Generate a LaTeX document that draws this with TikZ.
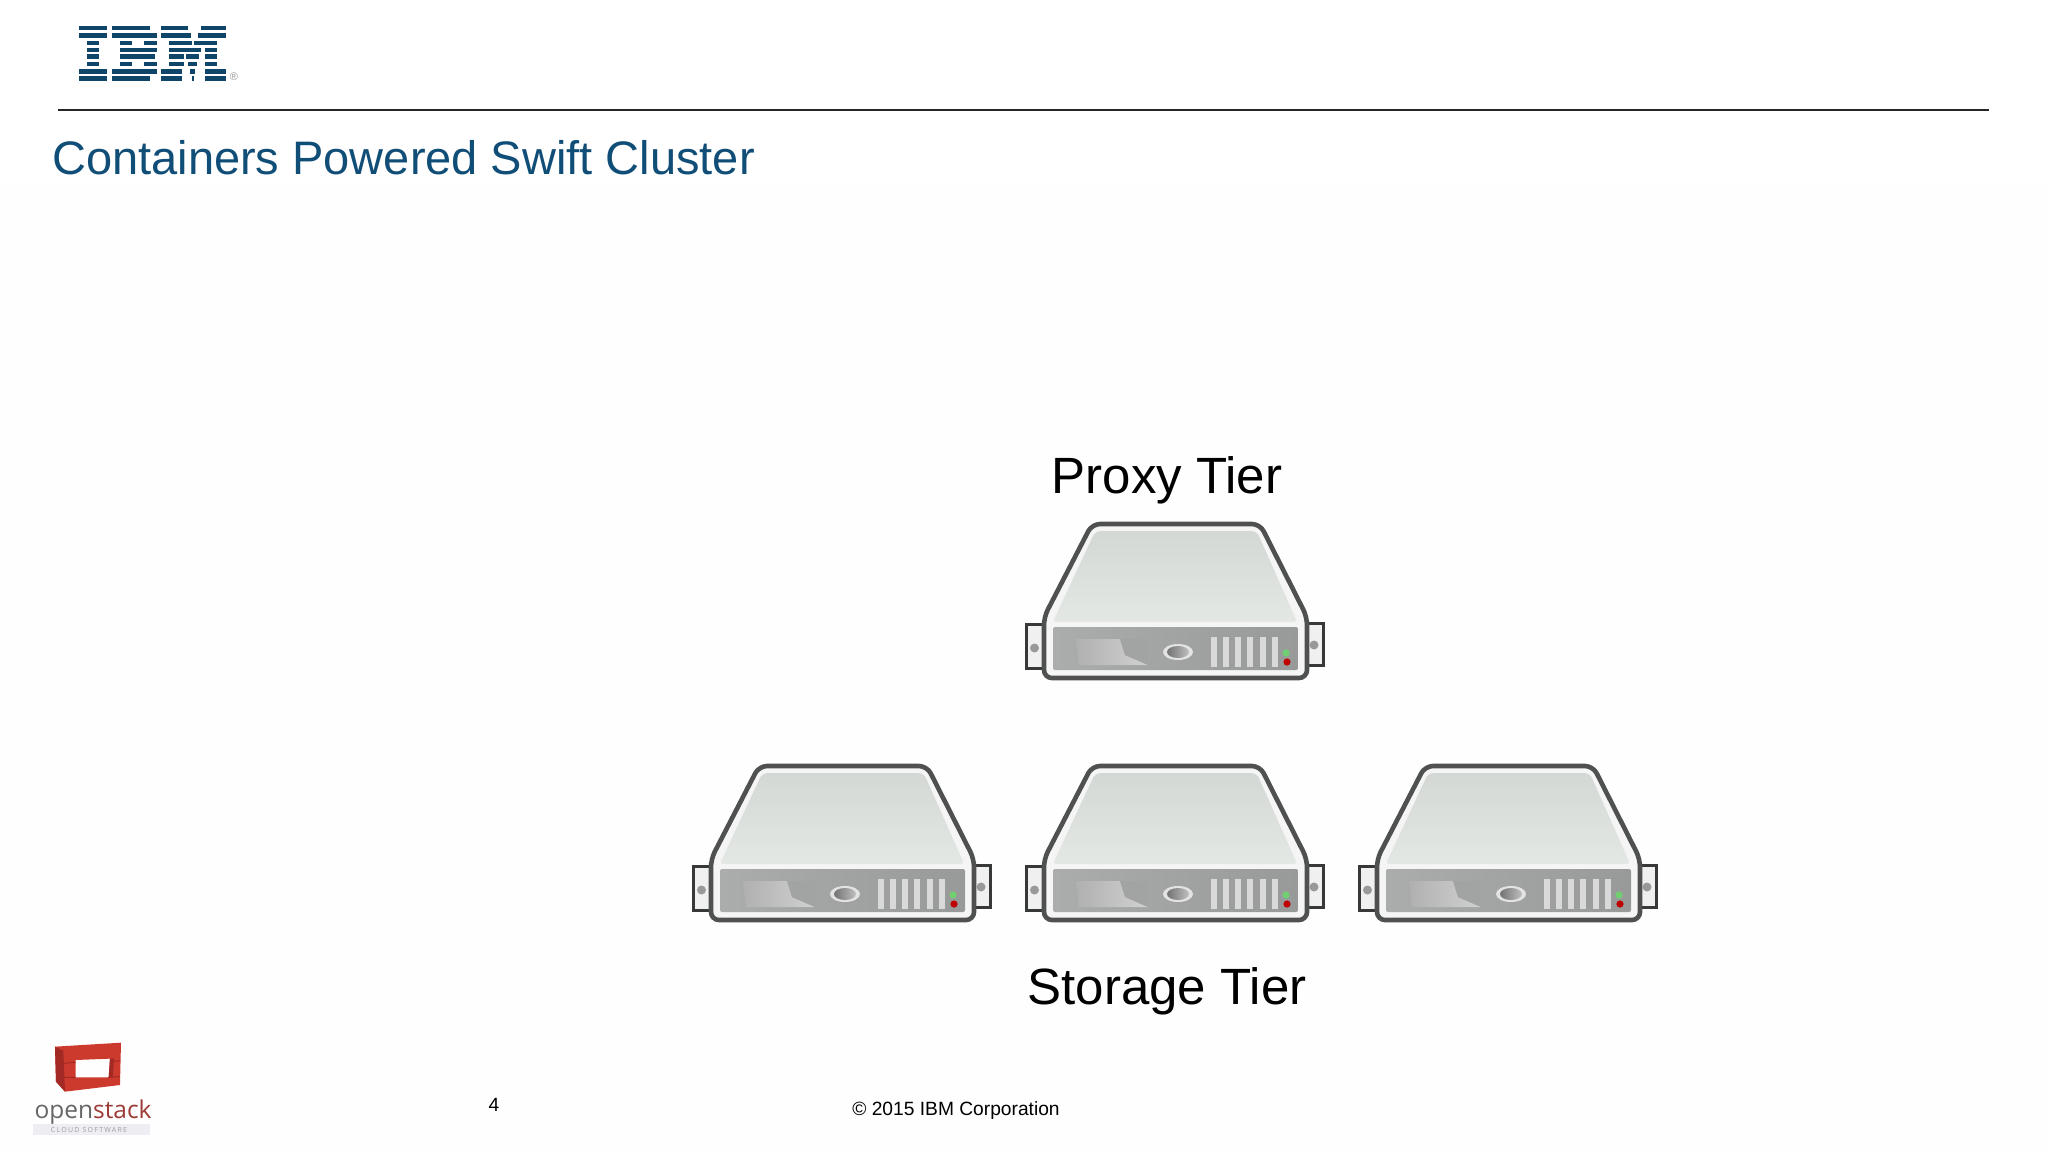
\documentclass[tikz,border=0pt]{standalone}
\usepackage{fontspec}
\setmainfont{Liberation Sans}
\newfontfamily\osfont{Open Sans}
\definecolor{ibmblue}{HTML}{0F4568}
\definecolor{titleblue}{HTML}{104E78}
\definecolor{srvline}{HTML}{4F5150}
\definecolor{osred}{HTML}{CC3A2E}
\definecolor{osdark}{HTML}{A32A24}
\definecolor{facetop}{HTML}{D4D8D5}
\definecolor{facebot}{HTML}{E4E8E5}
\definecolor{panelL}{HTML}{ABADAC}
\definecolor{panelR}{HTML}{989A99}
\tikzset{
  x=1pt,y=-1pt,
  tierlabel/.style={font=\fontsize{51}{56}\selectfont,text=black,inner sep=0pt,anchor=base},
  foot/.style={font=\fontsize{19.2}{23}\selectfont,text=black,inner sep=0pt,anchor=base},
  server/.pic={
    \draw[srvline!70!black,line width=3,fill=white!88!gray] (16,124.5) rectangle (34,168);
    \draw[srvline!70!black,line width=3,fill=white!88!gray] (297,123.5) rectangle (313.5,165);
    \fill[gray!80] (24.5,148) circle (4.5);
    \fill[gray!80] (304,145) circle (4.5);
    \draw[srvline,line width=4.6,rounded corners=8,fill=white!92!gray]
      (82,24) -- (250,24) -- (297,117) -- (297,178) -- (34,178) -- (34,117) -- cycle;
    \shade[rounded corners=6,top color=facetop,bottom color=facebot]
      (85,31) -- (247,31) -- (289,122) -- (41,122) -- cycle;
    \draw[white!92!gray,line width=1.4,rounded corners=6] (41,124) -- (85,29.5) -- (247,29.5) -- (289,124);
    \shade[left color=panelL,right color=panelR,rounded corners=2] (43,127) rectangle (288,170);
    \shade[left color=gray!62,right color=gray!36] (66,139) -- (110,139) -- (115,155) -- (138,165) -- (69,165) -- cycle;
    \fill[panelL!95!black] (110,139) -- (138,139) -- (138,165) -- (115,155) -- cycle;
    \fill[gray!22] (168,152) ellipse (15 and 8);
    \shade[left color=gray!90!black,right color=gray!50] (168,152) ellipse (11 and 6);
    \foreach \vx in {201,213,225,237,250,262}
      \fill[gray!30] (\vx,137) rectangle ++(6,30);
    \fill[green!50!gray!75] (276,153) circle (3.6);
    \fill[red!75!black] (277,162) circle (3.6);
  }
}
\begin{document}
\begin{tikzpicture}
\useasboundingbox (0,0) rectangle (2048,1152);
\fill[white!99.4!gray] (0,0) rectangle (2048,1152);
\fill[white] (0,0) rectangle (2048,185);

% IBM logo
\foreach \ya/\segs in {
  28/{79/107,112/150,161/188,201/226},
  35.7/{79/107,112/157,161/191,198/226},
  43/{87/99,120/132,144/157,169/192,194/217},
  50/{87/99,120/157,169/201,205/217},
  56.7/{87/99,120/155,169/184,186/199,205/217},
  64/{87/99,120/132,144/157,169/184,188/197,205/217},
  71.4/{79/107,112/157,161/182,190/195,205/226},
  78.4/{79/107,112/150,161/182,192/194,205/226}}{
  \foreach \a/\b in \segs {
    \fill[ibmblue] (\a,\ya-2.4) rectangle (\b,\ya+2.4);
  }
}
\node[inner sep=0pt,text=gray!80,font=\fontsize{11}{11}\selectfont] (reg) at (234,76.5) {®};

\coordinate (ruleL) at (58,110);
\coordinate (ruleR) at (1989,110);
\draw[black!85,line width=2] (ruleL) -- (ruleR);

\node[anchor=base west,inner sep=0pt,text=titleblue,font=\fontsize{47}{52}\selectfont] (title) at (52,174) {Containers Powered Swift Cluster};

\node[tierlabel] (proxylabel) at (1167,493) {Proxy Tier};
\node[tierlabel] (storagelabel) at (1167,1004) {Storage Tier};

\pic (proxy) at (1010,500) {server};
\pic (storageL) at (677,742) {server};
\pic (storageM) at (1010,742) {server};
\pic (storageR) at (1343,742) {server};

\node[foot] (pageno) at (494,1111) {4};
\node[foot] (copy) at (956,1115) {© 2015 IBM Corporation};

% OpenStack logo
\begin{scope}[shift={(10,1020)},x=0.3333pt,y=-0.3333pt]
  \fill[osred,even odd rule] (135,80) -- (333,68) -- (330,195) -- (165,215) -- (138,185) -- cycle
     (197,120) -- (300,116) -- (296,172) -- (197,172) -- cycle;
  \fill[osdark] (135,80) -- (160,92) -- (165,215) -- (138,185) -- cycle;
  \fill[osdark] (296,172) -- (300,116) -- (312,115) -- (308,172) -- cycle;
  \draw[osdark,line width=1] (160,130) -- (197,127) (160,172) -- (197,172) (300,125) -- (330,122) (296,172) -- (330,170);
  \fill[blue!20!gray!12] (70,312) rectangle (420,345);
  \node[anchor=base west,inner sep=0pt,font=\osfont\fontsize{24.5}{26}\selectfont] (oslogo) at (73,296)
     {\textcolor{gray!80!black}{open}\textcolor{osdark!80!gray}{stack}};
  \node[inner sep=0pt,text=gray!75,font=\osfont\addfontfeature{LetterSpace=18}\fontsize{7}{8}\selectfont] (ossub) at (237,329) {CLOUD SOFTWARE};
\end{scope}
\end{tikzpicture}
\end{document}
